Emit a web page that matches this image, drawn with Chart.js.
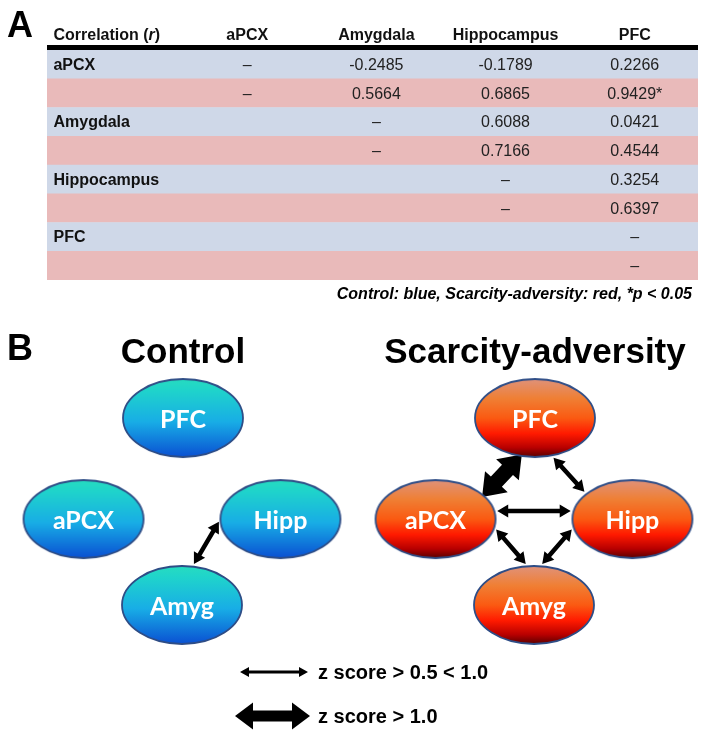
<!DOCTYPE html>
<html>
<head>
<meta charset="utf-8">
<script src="https://cdn.jsdelivr.net/npm/chart.js@4"></script>
<style>
  body { margin: 0; background: #fff; }
  #wrap { position: relative; width: 704px; height: 740px; }
  canvas { position: absolute; left: 0; }
  #tablechart { top: 0; }
  #netchart { top: 310px; }
</style>
</head>
<body>
<div id="wrap">
  <canvas id="tablechart" width="704" height="310"></canvas>
  <canvas id="netchart" width="704" height="430"></canvas>
</div>
<script>
// data
const regions = ['aPCX', 'Amygdala', 'Hippocampus', 'PFC']
const groups = ['Control', 'Scarcity-adversity']
const controlR = [
    [null, -0.2485, -0.1789, 0.2266],
    [null, null, 0.6088, 0.0421],
    [null, null, null, 0.3254],
    [null, null, null, null]
]
const scarcityR = [
    [null, 0.5664, 0.6865, 0.9429],
    [null, null, 0.7166, 0.4544],
    [null, null, null, 0.6397],
    [null, null, null, null]
]
const scarcitySig = [[0, 3]]
const nodeNames = ['PFC', 'aPCX', 'Hipp', 'Amyg']
const controlEdges = [['Amyg', 'Hipp', 'thin']]
const scarcityEdges = [
    ['PFC', 'aPCX', 'thick'],
    ['PFC', 'Hipp', 'thin'],
    ['aPCX', 'Hipp', 'thin'],
    ['aPCX', 'Amyg', 'thin'],
    ['Hipp', 'Amyg', 'thin']
]
const legendItems = [['thin', 'z score > 0.5 < 1.0'], ['thick', 'z score > 1.0']]

// layout
const X_MIN = -1.55, X_MAX = 3.49
const groupX = [-1.7, 1.84]
const nodeOffset = { PFC: [0, 1.09], aPCX: [-1.0, 0.06], Hipp: [0.98, 0.06], Amyg: [-0.01, -0.815] }
const anchorAngles = [
    { 'Amyg-Hipp': [-80, 180] },
    { 'PFC-aPCX': [104, -37], 'PFC-Hipp': [74, -140], 'aPCX-Hipp': [-12, 192], 'aPCX-Amyg': [12, -96], 'Hipp-Amyg': [168, -84] }
]
const edgeStyle = { thin: { shaft: 4.5, head: 13, len: 11, gap: 3 }, thick: { shaft: 15, head: 31, len: 21, gap: -2 } }
const legendStyle = { thin: { shaft: 3, head: 10, len: 9 }, thick: { shaft: 11, head: 27, len: 18 } }
const RX = 60, RY = 39
const SANS = '"Liberation Sans", Arial, sans-serif'
const rowBlue = 'rgb(207, 216, 232)'
const rowRed = 'rgb(233, 186, 186)'

// ---------- panel A: table ----------
const rowKeys = []
regions.forEach(r => groups.forEach(g => rowKeys.push(r + ' / ' + g)))

const cellText = (ri, gi, ci) => {
    if (ci < ri) return ''
    if (ci === ri) return '\u2013'
    const v = (gi === 0 ? controlR : scarcityR)[ri][ci]
    let s = v.toFixed(4)
    if (gi === 1 && scarcitySig.some(p => p[0] === ri && p[1] === ci)) s += '*'
    return s
}

const tableText = {
    id: 'tableText',
    afterDatasetsDraw(chart) {
        const ctx = chart.ctx, xs = chart.scales.x, ys = chart.scales.y, area = chart.chartArea
        ctx.save()
        // panel letter
        ctx.fillStyle = '#000'
        ctx.font = 'bold 36px ' + SANS
        ctx.textAlign = 'left'
        ctx.textBaseline = 'alphabetic'
        ctx.fillText('A', 7, 37)
        // header rule
        ctx.fillRect(area.left, area.top - 5, area.right - area.left, 5)
        // header
        ctx.fillStyle = '#111'
        ctx.font = 'bold 16px ' + SANS
        let hx = xs.getPixelForValue(-1.5)
        const hy = 40
        ctx.fillText('Correlation (', hx, hy)
        hx += ctx.measureText('Correlation (').width
        ctx.font = 'italic bold 16px ' + SANS
        ctx.fillText('r', hx, hy)
        hx += ctx.measureText('r').width
        ctx.font = 'bold 16px ' + SANS
        ctx.fillText(')', hx, hy)
        ctx.textAlign = 'center'
        regions.forEach((r, i) => ctx.fillText(r, xs.getPixelForValue(i), hy))
        // rows
        ctx.textBaseline = 'middle'
        rowKeys.forEach((k, row) => {
            const ri = Math.floor(row / 2), gi = row % 2
            const y = ys.getPixelForValue(row) + 1
            if (gi === 0) {
                ctx.font = 'bold 16px ' + SANS
                ctx.textAlign = 'left'
                ctx.fillStyle = '#111'
                ctx.fillText(regions[ri], xs.getPixelForValue(-1.5), y)
            }
            ctx.font = '16px ' + SANS
            ctx.textAlign = 'center'
            ctx.fillStyle = '#222'
            regions.forEach((c, ci) => ctx.fillText(cellText(ri, gi, ci), xs.getPixelForValue(ci), y))
        })
        // footnote
        ctx.textAlign = 'right'
        ctx.textBaseline = 'alphabetic'
        ctx.fillStyle = '#000'
        ctx.font = 'italic bold 16px ' + SANS
        ctx.fillText('Control: blue, Scarcity-adversity: red, *p < 0.05', 692, 299)
        ctx.restore()
    }
}

new Chart(document.getElementById('tablechart'), {
    type: 'bar',
    data: {
        labels: rowKeys,
        datasets: [{
            data: rowKeys.map(() => [X_MIN, X_MAX]),
            backgroundColor: rowKeys.map((k, i) => i % 2 ? rowRed : rowBlue),
            borderWidth: 0,
            barPercentage: 1,
            categoryPercentage: 1
        }]
    },
    options: {
        indexAxis: 'y',
        responsive: false,
        animation: false,
        events: [],
        layout: { padding: { left: 47, right: 6, top: 50, bottom: 30 } },
        plugins: { legend: { display: false }, tooltip: { enabled: false } },
        scales: {
            x: { type: 'linear', min: X_MIN, max: X_MAX, display: false },
            y: { display: false }
        }
    },
    plugins: [tableText]
})

// ---------- panel B: networks ----------
const makeNode = (stops) => {
    const c = document.createElement('canvas')
    c.width = RX * 2 + 4
    c.height = RY * 2 + 4
    const g = c.getContext('2d')
    const grad = g.createLinearGradient(0, 2, 0, RY * 2 + 2)
    stops.forEach(s => grad.addColorStop(s[0], s[1]))
    g.beginPath()
    g.ellipse(RX + 2, RY + 2, RX, RY, 0, 0, Math.PI * 2)
    g.fillStyle = grad
    g.fill()
    g.lineWidth = 1.8
    g.strokeStyle = '#2e4d86'
    g.stroke()
    return c
}

const blueNode = makeNode([[0, '#26dcc0'], [0.15, '#1fd3cc'], [0.55, '#18ade6'], [1, '#0a50d2']])
const redNode = makeNode([[0, '#e0927a'], [0.25, '#f07f34'], [0.5, '#fb5a12'], [0.7, '#ff1a00'], [0.88, '#b80000'], [1, '#5a0000']])

const nodePoints = (gi) => nodeNames.map(n => ({
    x: groupX[gi] + nodeOffset[n][0],
    y: nodeOffset[n][1],
    name: n
}))

const ellipsePoint = (p, deg) => {
    const a = deg * Math.PI / 180
    return [p.x + RX * Math.cos(a), p.y + RY * Math.sin(a)]
}

const drawArrow = (ctx, x1, y1, x2, y2, st) => {
    const dx = x2 - x1, dy = y2 - y1
    const L = Math.hypot(dx, dy)
    const ux = dx / L, uy = dy / L, nx = -uy, ny = ux
    const hs = st.shaft / 2, hh = st.head / 2
    const pts = [
        [x1, y1],
        [x1 + ux * st.len + nx * hh, y1 + uy * st.len + ny * hh],
        [x1 + ux * st.len + nx * hs, y1 + uy * st.len + ny * hs],
        [x2 - ux * st.len + nx * hs, y2 - uy * st.len + ny * hs],
        [x2 - ux * st.len + nx * hh, y2 - uy * st.len + ny * hh],
        [x2, y2],
        [x2 - ux * st.len - nx * hh, y2 - uy * st.len - ny * hh],
        [x2 - ux * st.len - nx * hs, y2 - uy * st.len - ny * hs],
        [x1 + ux * st.len - nx * hs, y1 + uy * st.len - ny * hs],
        [x1 + ux * st.len - nx * hh, y1 + uy * st.len - ny * hh]
    ]
    ctx.beginPath()
    pts.forEach((p, i) => i ? ctx.lineTo(p[0], p[1]) : ctx.moveTo(p[0], p[1]))
    ctx.closePath()
    ctx.fillStyle = '#000'
    ctx.fill()
}

const netArrows = {
    id: 'netArrows',
    beforeDatasetsDraw(chart) {
        const ctx = chart.ctx
        ctx.save();
        [controlEdges, scarcityEdges].forEach((edges, gi) => {
            const meta = chart.getDatasetMeta(gi)
            const pos = {}
            chart.data.datasets[gi].data.forEach((d, i) => { pos[d.name] = meta.data[i] })
            edges.forEach(e => {
                const ang = anchorAngles[gi][e[0] + '-' + e[1]]
                const st = edgeStyle[e[2]]
                const p1 = ellipsePoint(pos[e[0]], ang[0])
                const p2 = ellipsePoint(pos[e[1]], ang[1])
                const L = Math.hypot(p2[0] - p1[0], p2[1] - p1[1])
                const ux = (p2[0] - p1[0]) / L, uy = (p2[1] - p1[1]) / L
                drawArrow(ctx, p1[0] + ux * st.gap, p1[1] + uy * st.gap, p2[0] - ux * st.gap, p2[1] - uy * st.gap, st)
            })
        })
        ctx.restore()
    },
    afterDatasetsDraw(chart) {
        const ctx = chart.ctx, xs = chart.scales.x
        ctx.save()
        // node labels
        ctx.fillStyle = '#fff'
        ctx.font = 'bold 25px Lato, "Open Sans", sans-serif'
        ctx.textAlign = 'center'
        ctx.textBaseline = 'alphabetic'
        chart.data.datasets.forEach((ds, gi) => {
            const meta = chart.getDatasetMeta(gi)
            ds.data.forEach((d, i) => ctx.fillText(d.name, meta.data[i].x, meta.data[i].y + 10))
        })
        // panel letter and titles
        ctx.fillStyle = '#000'
        ctx.font = 'bold 36px ' + SANS
        ctx.textAlign = 'left'
        ctx.fillText('B', 7, 50)
        ctx.font = 'bold 35px ' + SANS
        ctx.textAlign = 'center'
        groups.forEach((g, gi) => ctx.fillText(g, xs.getPixelForValue(groupX[gi]), 53))
        // legend
        const legendY = [362, 406]
        legendItems.forEach((it, i) => {
            const st = legendStyle[it[0]]
            const x1 = it[0] === 'thick' ? 235 : 240
            const x2 = it[0] === 'thick' ? 310 : 308
            drawArrow(ctx, x1, legendY[i], x2, legendY[i], st)
            ctx.fillStyle = '#000'
            ctx.font = 'bold 20px ' + SANS
            ctx.textAlign = 'left'
            ctx.fillText(it[1], 318, legendY[i] + 7)
        })
        ctx.restore()
    }
}

new Chart(document.getElementById('netchart'), {
    type: 'scatter',
    data: {
        datasets: [
            { data: nodePoints(0), pointStyle: blueNode, pointRadius: 3, pointHoverRadius: 3 },
            { data: nodePoints(1), pointStyle: redNode, pointRadius: 3, pointHoverRadius: 3 }
        ]
    },
    options: {
        responsive: false,
        animation: false,
        events: [],
        layout: { padding: 0 },
        plugins: { legend: { display: false }, tooltip: { enabled: false } },
        scales: {
            x: { type: 'linear', min: -3.5, max: 3.5, display: false },
            y: { type: 'linear', min: -2.15, max: 2.15, display: false }
        }
    },
    plugins: [netArrows]
})
</script>
</body>
</html>
